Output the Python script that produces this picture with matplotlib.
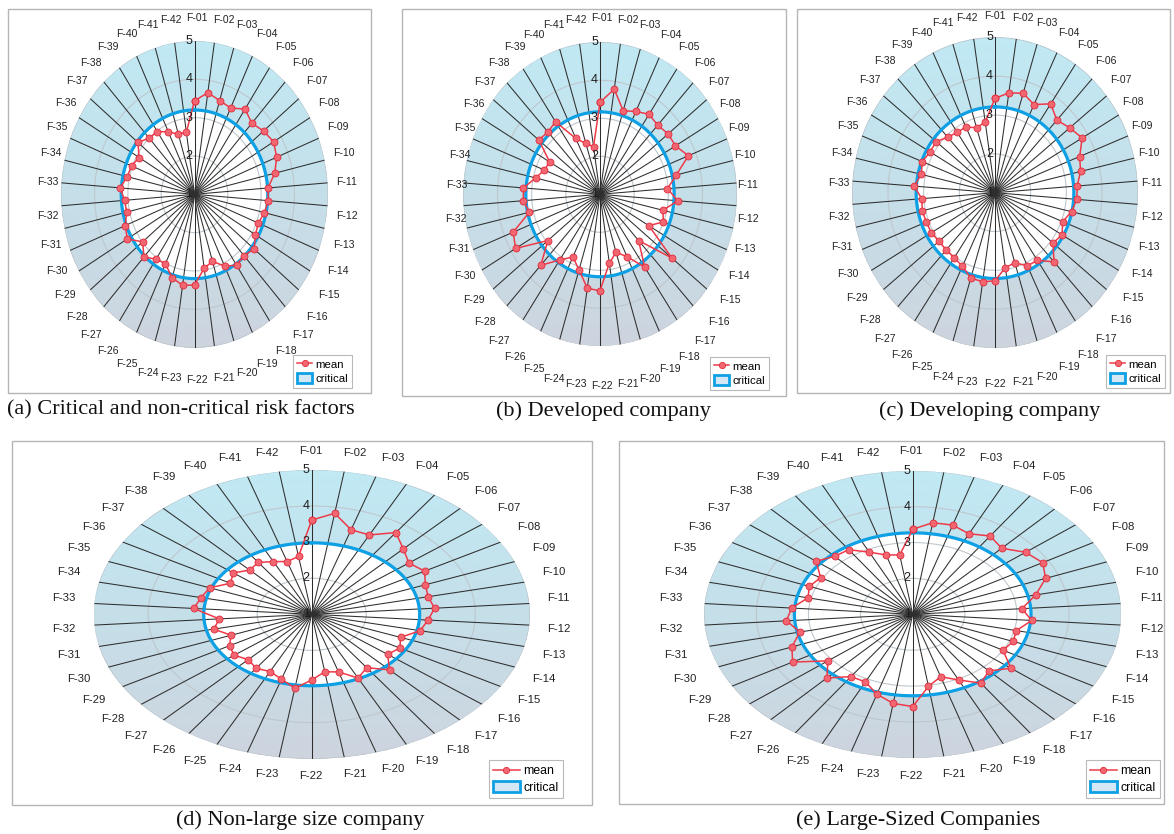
import numpy as np
import matplotlib
matplotlib.use("Agg")
import matplotlib.pyplot as plt
from matplotlib.colors import LinearSegmentedColormap
from matplotlib.lines import Line2D
from matplotlib.patches import Patch, Rectangle

# ---------------- data ----------------
factors = ["F-01", "F-02", "F-03", "F-04", "F-05", "F-06", "F-07", "F-08", "F-09", "F-10",
           "F-11", "F-12", "F-13", "F-14", "F-15", "F-16", "F-17", "F-18", "F-19", "F-20",
           "F-21", "F-22", "F-23", "F-24", "F-25", "F-26", "F-27", "F-28", "F-29", "F-30",
           "F-31", "F-32", "F-33", "F-34", "F-35", "F-36", "F-37", "F-38", "F-39", "F-40",
           "F-41", "F-42"]

mean_a = [3.44, 3.68, 3.56, 3.50, 3.69, 3.53, 3.65, 3.74, 3.65, 3.47,
          3.21, 3.22, 3.15, 3.06, 3.11, 3.29, 3.18, 3.24, 3.08, 2.83,
          2.95, 3.37, 3.40, 3.28, 3.01, 3.05, 3.23, 2.99, 3.33, 3.23,
          3.09, 3.10, 3.24, 3.07, 3.03, 2.92, 3.17, 3.00, 2.98, 2.81,
          2.64, 2.64]
mean_b = [3.42, 3.80, 3.30, 3.42, 3.55, 3.48, 3.55, 3.55, 3.78, 3.29,
          2.98, 3.28, 2.89, 2.99, 2.65, 3.69, 2.66, 3.32, 2.82, 2.60,
          2.83, 3.54, 3.50, 3.08, 2.83, 3.09, 3.55, 2.95, 3.85, 3.73,
          3.12, 3.25, 3.25, 2.93, 2.75, 2.70, 3.29, 3.24, 3.31, 2.63,
          2.40, 2.27]
mean_c = [3.43, 3.60, 3.68, 3.52, 3.77, 3.55, 3.68, 3.82, 3.55, 3.46,
          3.31, 3.30, 3.20, 3.04, 3.17, 3.08, 3.43, 3.11, 3.09, 2.89,
          2.95, 3.27, 3.32, 3.30, 3.10, 3.03, 3.01, 3.01, 3.06, 3.07,
          3.09, 3.06, 3.27, 3.12, 3.19, 3.10, 3.11, 2.95, 2.88, 2.88,
          2.75, 2.84]
mean_d = [3.61, 3.83, 3.45, 3.44, 3.74, 3.47, 3.28, 3.39, 3.24, 3.19,
          3.26, 3.14, 3.04, 2.75, 2.87, 2.78, 3.10, 2.79, 2.96, 2.67,
          2.61, 2.82, 3.07, 2.88, 2.76, 2.81, 2.71, 2.82, 2.74, 2.59,
          2.84, 2.70, 3.17, 3.08, 3.01, 2.72, 2.84, 2.67, 2.74, 2.62,
          2.53, 2.62]
mean_e = [3.37, 3.58, 3.60, 3.49, 3.64, 3.51, 3.77, 3.88, 3.74, 3.42,
          3.10, 3.29, 3.04, 3.07, 3.00, 3.41, 3.15, 3.32, 3.03, 2.82,
          3.03, 3.57, 3.51, 3.33, 3.09, 3.10, 3.42, 3.08, 3.66, 3.49,
          3.22, 3.43, 3.33, 3.06, 3.13, 3.04, 3.37, 3.20, 3.18, 2.92,
          2.73, 2.67]
critical_values = [3.20, 3.17, 3.21, 2.98, 3.27]
radial_ticks = [1, 2, 3, 4, 5]
captions = ["(a) Critical and non-critical risk factors",
            "(b) Developed company",
            "(c) Developing company",
            "(d) Non-large size company",
            "(e) Large-Sized Companies"]
series = [mean_a, mean_b, mean_c, mean_d, mean_e]

# ---------------- layout (pixels) ----------------
W, H = 1174, 834
layout = [
    dict(box=(8, 9, 371, 393), disk=(194.5, 194.3, 133.3, 153.3), lab=(197, 199, 150, 181),
         leg=(352, 388), cap=(181, 410), lfs=7.5, legfs=8.2, hl=1.3),
    dict(box=(402, 9, 786, 396), disk=(600.0, 194.3, 136.7, 152.0), lab=(602, 202, 146, 184),
         leg=(769, 390), cap=(603, 411), lfs=7.5, legfs=8.2, hl=1.3),
    dict(box=(797, 9, 1170, 393), disk=(995.0, 192.7, 142.7, 155.3), lab=(995, 200, 157, 184),
         leg=(1165, 388), cap=(990, 411), lfs=7.5, legfs=8.2, hl=1.3),
    dict(box=(12, 441, 592, 805), disk=(311.7, 614.3, 218.1, 144.4), lab=(311, 613.5, 248, 162.5),
         leg=(563, 798), cap=(300, 820), lfs=8.2, legfs=8.8, hl=2.2),
    dict(box=(619, 441, 1164, 804), disk=(912.7, 614.3, 208.5, 143.6), lab=(911, 613.5, 241, 162.5),
         leg=(1160, 798), cap=(918, 820), lfs=8.2, legfs=8.8, hl=2.2),
]

RED = "#ee3a48"
BLUE = "#0ea0e4"
grad = LinearSegmentedColormap.from_list("g", ["#cdd4de", "#c5dfe9", "#c0e9f4"])

fig = plt.figure(figsize=(W / 100, H / 100), dpi=100)
fig.patch.set_facecolor("white")

n = len(factors)
ang = np.linspace(0, 2 * np.pi, n, endpoint=False)
theta_fine = np.linspace(0, 2 * np.pi, 721)

for vals, crit, cap, L in zip(series, critical_values, captions, layout):
    x0, y0, x1, y1 = L["box"]
    fig.add_artist(Rectangle((x0 / W, 1 - y1 / H), (x1 - x0) / W, (y1 - y0) / H,
                             transform=fig.transFigure, fill=False,
                             ec="#b5b5b5", lw=1.0, zorder=0))
    cx, cy, rx, ry = L["disk"]
    ax = fig.add_axes([(cx - rx) / W, 1 - (cy + ry) / H, 2 * rx / W, 2 * ry / H],
                      projection="polar")
    ax.set_aspect("auto")
    ax.set_theta_zero_location("N")
    ax.set_theta_direction(-1)
    ax.set_ylim(radial_ticks[0], radial_ticks[-1])
    ax.set_xticks([])
    ax.set_yticks([])
    ax.grid(False)
    ax.spines["polar"].set_visible(False)
    ax.patch.set_alpha(0)

    # gradient background
    T, R = np.meshgrid(theta_fine[::4], np.linspace(1, 5, 30))
    C = (R - 1) * np.cos(T) / 4.0
    ax.pcolormesh(T, R, C, cmap=grad, vmin=-1, vmax=1, shading="gouraud", zorder=0)
    # white inside critical
    ax.fill(theta_fine, np.full_like(theta_fine, crit), color="white", zorder=1, lw=0)
    # grid circles
    for g in radial_ticks[1:]:
        ax.plot(theta_fine, np.full_like(theta_fine, g), color="#bfc7cd", lw=0.8, zorder=2)
    # spokes
    for a in ang:
        ax.plot([a, a], [1, 5], color="#2e2e2e", lw=0.75, zorder=3)
    # critical
    ax.plot(theta_fine, np.full_like(theta_fine, crit), color=BLUE, lw=2.3, zorder=4)
    # mean
    va = np.array(vals + vals[:1])
    aa = np.concatenate([ang, ang[:1]])
    ax.plot(aa, va, "-o", color=RED, lw=1.1, ms=5, mfc="#f26672", mec="#e02b3a",
            mew=0.6, zorder=5, clip_on=False)
    # radial labels
    for t in radial_ticks:
        ax.annotate(str(t), xy=(0, t), xytext=(-1.5, 0), textcoords="offset points",
                    ha="right", va="center", fontsize=9, color="#1e1e1e",
                    family="Liberation Sans", zorder=6)
    # category labels
    lcx, lcy, la, lb = L["lab"]
    p = 2.2
    for a, lab in zip(ang, factors):
        s, c = np.sin(a), np.cos(a)
        px = lcx + la * np.sign(s) * abs(s) ** (2 / p)
        py = lcy - lb * np.sign(c) * abs(c) ** (2 / p)
        fig.text(px / W, 1 - py / H, lab, ha="center", va="center",
                 fontsize=L["lfs"], color="#222222", family="Liberation Sans")
    # legend
    handles = [Line2D([], [], color=RED, lw=1.1, marker="o", ms=4.5, mfc="#f26672",
                      mec="#e02b3a", mew=0.6),
               Patch(facecolor="#d3e8f4", edgecolor=BLUE, lw=2)]
    lx, ly = L["leg"]
    leg = ax.legend(handles, ["mean", "critical"], loc="lower right",
                    bbox_to_anchor=(lx / W, 1 - ly / H), bbox_transform=fig.transFigure,
                    frameon=True, fancybox=False, edgecolor="#a8a8a8",
                    prop={"family": "Liberation Sans", "size": L["legfs"]},
                    borderpad=0.35, labelspacing=0.3, handlelength=L["hl"],
                    handleheight=1.0, handletextpad=0.3, borderaxespad=0)
    leg.get_frame().set_linewidth(0.8)
    # caption
    capx, capy = L["cap"]
    fig.text(capx / W, 1 - capy / H, cap, ha="center", va="center",
             fontsize=16, family="Liberation Serif", color="#111111")

fig.savefig("out.png", dpi=100, facecolor="white")
